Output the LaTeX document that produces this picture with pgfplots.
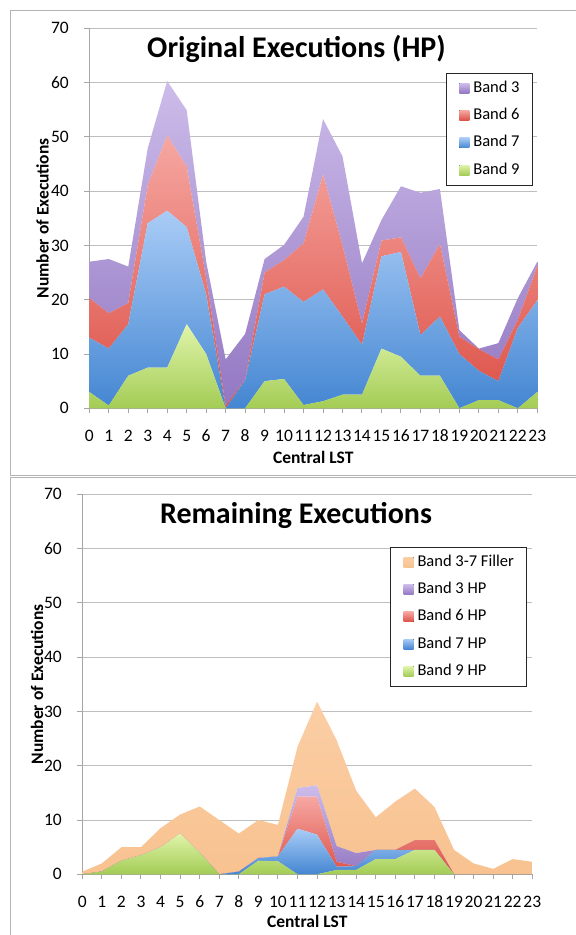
\documentclass[border=0pt]{standalone}
\usepackage{fontspec}
\setmainfont{Carlito}
\usepackage{pgfplots}
\usepackage{pgfplotstable}
\pgfplotsset{compat=1.18}

% gradient end colours of the stacked bands
\definecolor{vioTop}{HTML}{CDBCEA}
\definecolor{vioBot}{HTML}{9378C2}
\definecolor{redTop}{HTML}{F6A7A2}
\definecolor{redBot}{HTML}{DC5046}
\definecolor{bluTop}{HTML}{A9CCF6}
\definecolor{bluBot}{HTML}{4486D2}
\definecolor{grnTop}{HTML}{E0F4AA}
\definecolor{grnBot}{HTML}{A3CC55}
\definecolor{orgTop}{HTML}{FBCEA5}
\definecolor{orgBot}{HTML}{F8C290}
\definecolor{axisgray}{HTML}{A6A6A6}
\definecolor{gridgray}{HTML}{BEBEBE}
\definecolor{framegray}{HTML}{B4B4B4}

% hourly executions per band (stacked), central LST 0..23
\pgfplotstableread{
lst b9   b7   b6   b3
0   3    10   7.3  6.7
1   0.5  10.5 6.5  10
2   6    9.5  3.9  6.7
3   7.5  26.6 7    6.8
4   7.5  28.9 13.9 10
5   15.5 17.9 11.1 10.4
6   10   11   3    3
7   0    0    0.5  8.5
8   0    5.2  0.1  8.4
9   5    16   4    2.5
10  5.4  17   4.9  2.8
11  0.6  19   10.8 4.9
12  1.3  20.6 21.2 10.2
13  2.5  14.4 13.1 16.4
14  2.5  9.2  3.9  11.1
15  11   17   2.9  3.8
16  9.5  19.3 2.7  9.4
17  6    7.5  10.4 15.8
18  6    10.9 13.4 10.1
19  0    10   3.2  1.2
20  1.5  5.4  4    0.1
21  1.5  3.5  4    3
22  0    14.8 1.5  4
23  3    16.9 6.3  0.8
}\orig

\pgfplotstableread{
lst h9  h7  h6  h3  fl
0   0   0   0   0   0.5
1   0.5 0   0   0   1.5
2   2.5 0   0   0   2.5
3   3.5 0   0   0   1.5
4   5   0   0   0   3.5
5   7.5 0   0   0   3.5
6   4   0   0   0   8.5
7   0   0   0   0   10
8   0   0.5 0   0   7
9   2.5 0.5 0   0   7
10  2.4 0.9 0   0   5.8
11  0   8.4 5.9 1.6 7.6
12  0   7.3 7.0 2.1 15.4
13  0.8 0.6 0.9 2.9 19.5
14  0.8 0.7 0   2.4 11.5
15  2.8 1.7 0   0   6
16  2.8 1.7 0   0   8.9
17  4.5 0   1.8 0   9.5
18  4.5 0   1.8 0   6.1
19  0   0   0   0   4.5
20  0   0   0   0   2
21  0   0   0   0   1
22  0   0   0   0   2.8
23  0   0   0   0   2.3
}\remain

\pgfplotsset{
  hourarea/.style={
    scale only axis, height=380pt,
    xmin=0, xmax=23, ymin=0, ymax=70,
    xtick={0,...,23}, ytick={0,10,...,70},
    axis x line*=bottom, axis y line*=left,
    axis line style={draw=axisgray, line width=1pt},
    tick align=outside, major tick length=5pt,
    tick style={draw=axisgray, line width=1pt},
    ymajorgrids, grid style={draw=gridgray, line width=1pt},
    /pgf/number format/assume math mode=true,
    ticklabel style={font=\fontsize{17.5}{20}\selectfont, inner sep=0pt},
    xticklabel style={anchor=center, yshift=-22.7pt},
    yticklabel style={anchor=east, xshift=-15.3pt},
    label style={font=\bfseries\fontsize{17.5}{20}\selectfont},
    xlabel={Central LST},
    ylabel={Number of Executions},
    stack plots=y,
    reverse legend,
    legend image code/.code={\fill[##1] (0pt,-5pt) rectangle (10pt,5pt);},
    legend style={draw=black!85, line width=0.8pt, fill=white,
      font=\fontsize{16.5}{19}\selectfont,
      nodes={inner sep=0pt, text height=11pt, text depth=3pt},
      row sep=13.3pt, column sep=4pt,
      inner xsep=13pt, inner ysep=8pt,
      cells={anchor=west}},
  },
  b9/.style={draw=none, top color=grnTop, bottom color=grnBot},
  b7/.style={draw=none, top color=bluTop, bottom color=bluBot},
  b6/.style={draw=none, top color=redTop, bottom color=redBot},
  b3/.style={draw=none, top color=vioTop, bottom color=vioBot},
  fl/.style={draw=none, top color=orgTop, bottom color=orgBot},
}

\begin{document}
\begin{tikzpicture}
\useasboundingbox (0pt,0pt) rectangle (576pt,935pt);

% chart frames
\draw[framegray, line width=1pt] (620pt,924.3pt) -- (10pt,924.3pt) -- (10pt,459.5pt) -- (620pt,459.5pt);
\draw[framegray, line width=1pt] (620pt,457pt) -- (10pt,457pt) -- (10pt,-20pt);

% upper chart: original HP executions
\begin{axis}[hourarea, at={(89.3pt,526.7pt)}, anchor=south west, width=448pt,
    xlabel style={at={(axis description cs:0.5,-0.128)}, anchor=center},
    ylabel style={at={(axis description cs:-0.1045,0.5)}, anchor=center},
    legend style={at={(0.796,0.883)}, anchor=north west}]
  \addplot[b9] table[x=lst, y=b9] {\orig} \closedcycle;
  \addlegendentry{Band 9}
  \addplot[b7] table[x=lst, y=b7] {\orig} \closedcycle;
  \addlegendentry{Band 7}
  \addplot[b6] table[x=lst, y=b6] {\orig} \closedcycle;
  \addlegendentry{Band 6}
  \addplot[b3] table[x=lst, y=b3] {\orig} \closedcycle;
  \addlegendentry{Band 3}
\end{axis}
\node[anchor=base, font=\bfseries\fontsize{30}{35}\selectfont] at (296.5pt,877.7pt) {Original Executions (HP)};

% lower chart: remaining executions
\begin{axis}[hourarea, at={(82.3pt,60.7pt)}, anchor=south west, width=450pt,
    xlabel style={at={(axis description cs:0.5,-0.123)}, anchor=center},
    ylabel style={at={(axis description cs:-0.1007,0.5)}, anchor=center},
    legend style={at={(0.684,0.862)}, anchor=north west}]
  \addplot[b9] table[x=lst, y=h9] {\remain} \closedcycle;
  \addlegendentry{Band 9 HP}
  \addplot[b7] table[x=lst, y=h7] {\remain} \closedcycle;
  \addlegendentry{Band 7 HP}
  \addplot[b6] table[x=lst, y=h6] {\remain} \closedcycle;
  \addlegendentry{Band 6 HP}
  \addplot[b3] table[x=lst, y=h3] {\remain} \closedcycle;
  \addlegendentry{Band 3 HP}
  \addplot[fl] table[x=lst, y=fl] {\remain} \closedcycle;
  \addlegendentry{Band 3-7 Filler}
\end{axis}
\node[anchor=base, font=\bfseries\fontsize{30}{35}\selectfont] at (296pt,411pt) {Remaining Executions};
\end{tikzpicture}
\end{document}
